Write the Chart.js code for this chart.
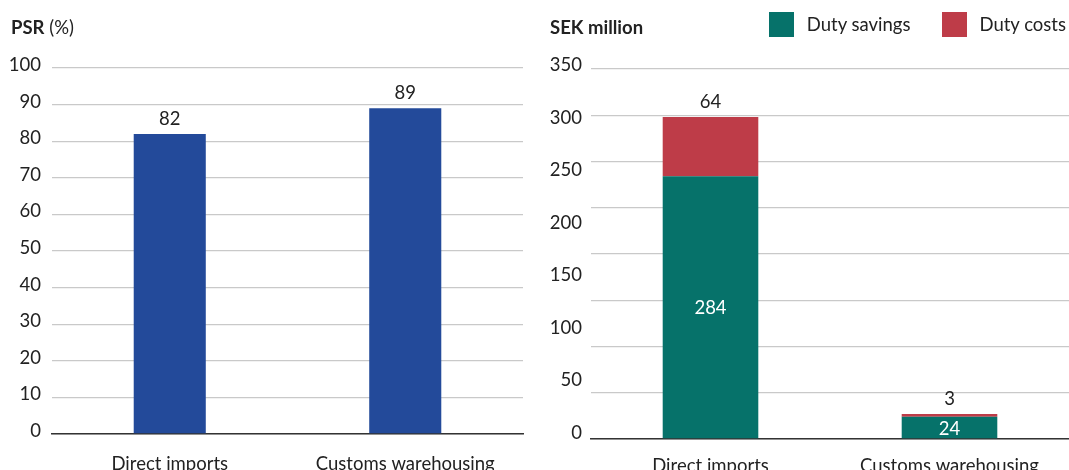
<!DOCTYPE html>
<html>
<head>
<meta charset="utf-8">
<script src="https://cdn.jsdelivr.net/npm/chart.js@4.4.1/dist/chart.umd.min.js"></script>
<style>
	html, body { margin: 0; padding: 0; background: #fff; }
	body { width: 1069px; height: 470px; position: relative; overflow: hidden; font-family: Lato, sans-serif; color: #222; }
	.panel { position: absolute; top: 0; height: 470px; }
	#psr_panel { left: 0; width: 530px; }
	#duty_panel { left: 530px; width: 539px; }
	.unit { position: absolute; top: 16px; font-size: 18.5px; line-height: 22px; }
	#duty_legend { position: absolute; top: 12px; right: 3px; display: flex; align-items: center; font-size: 18.5px; line-height: 25px; }
	#duty_legend .item { display: flex; align-items: center; margin-left: 31px; }
	#duty_legend .item:first-child { margin-left: 0; }
	#duty_legend .swatch { width: 25px; height: 25px; margin-right: 13px; }
</style>
</head>
<body>
<div class="panel" id="psr_panel"><canvas id="psr_chart"></canvas></div>
<div class="panel" id="duty_panel"><canvas id="duty_chart"></canvas></div>
<div class="unit" style="left:11px"><b>PSR</b> (%)</div>
<div class="unit" style="left:550px"><b>SEK million</b></div>
<div id="duty_legend"></div>
<script>
// categories shared by both charts
var categories = ["Direct imports", "Customs warehousing"];

// PSR per import route, %
var psr_values = [82, 89];
var psr_ticks = [0, 10, 20, 30, 40, 50, 60, 70, 80, 90, 100];

// duty effect, SEK million
var duty_savings = [284, 24];
var duty_costs = [64, 3];
var sek_ticks = [0, 50, 100, 150, 200, 250, 300, 350];

var blue = "#234A9A";
var teal = "#06726A";
var red = "#BE3C48";
var grid_color = "#c9c9c9";

Chart.defaults.font.family = "Lato, sans-serif";
Chart.defaults.font.size = 18.5;
Chart.defaults.color = "#222";

// prints each bar's value, white inside the segment or dark above it
var valueLabels = {
	id: 'valueLabels',
	afterDatasetsDraw: function(chart) {
		var ctx = chart.ctx;
		ctx.save();
		ctx.font = "18.5px Lato, sans-serif";
		ctx.textAlign = "center";
		ctx.textBaseline = "alphabetic";
		chart.data.datasets.forEach(function(ds, i) {
			chart.getDatasetMeta(i).data.forEach(function(bar, j) {
				var text = String(ds.data[j]);
				if (ds.labelInside) {
					ctx.fillStyle = "#fff";
					ctx.fillText(text, bar.x, (bar.y + bar.base) / 2 + 7);
				} else {
					ctx.fillStyle = "#222";
					ctx.fillText(text, bar.x, bar.y - 9);
				}
			});
		});
		ctx.restore();
	}
};

function set_ticks(list) {
	return function(scale) {
		scale.ticks = list.map(function(v) { return {value: v}; });
	};
}

var psr_chart = new Chart(document.getElementById("psr_chart"), {
	type: 'bar',
	data: {
		labels: categories,
		datasets: [{
			label: "PSR",
			data: psr_values,
			backgroundColor: blue,
			barPercentage: 0.306,
			categoryPercentage: 1
		}]
	},
	options: {
		responsive: true,
		maintainAspectRatio: false,
		animation: false,
		layout: { padding: { top: 68, right: 7, bottom: 0, left: 0 } },
		plugins: { legend: { display: false }, tooltip: { enabled: false } },
		scales: {
			x: {
				grid: { display: false },
				border: { color: "#333", width: 1.5 },
				ticks: { padding: 11 },
				afterFit: function(scale) { scale.height = 36; }
			},
			y: {
				min: 0,
				max: 100,
				afterBuildTicks: set_ticks(psr_ticks),
				grid: { color: grid_color, lineWidth: 1.3, drawTicks: false },
				border: { display: false },
				ticks: { padding: 11, labelOffset: -3 },
				afterFit: function(scale) { scale.width = 52; }
			}
		}
	},
	plugins: [valueLabels]
});

var duty_chart = new Chart(document.getElementById("duty_chart"), {
	type: 'bar',
	data: {
		labels: categories,
		datasets: [
			{ label: "Duty savings", data: duty_savings, backgroundColor: teal, yAxisID: 'y', labelInside: true },
			{ label: "Duty costs", data: duty_costs, backgroundColor: red, yAxisID: 'y' }
		]
	},
	options: {
		responsive: true,
		maintainAspectRatio: false,
		animation: false,
		datasets: { bar: { barPercentage: 0.40, categoryPercentage: 1 } },
		layout: { padding: { top: 69, right: 0, bottom: 0, left: 0 } },
		plugins: { legend: { display: false }, tooltip: { enabled: false } },
		scales: {
			x: {
				stacked: true,
				grid: { display: false },
				border: { color: "#333", width: 1.5 },
				ticks: { padding: 8 },
				afterFit: function(scale) { scale.height = 31; }
			},
			// gridlines every 50 up to 400
			y: {
				stacked: true,
				min: 0,
				max: 400,
				ticks: { display: false, stepSize: 50 },
				grid: { color: grid_color, lineWidth: 1.3, drawTicks: false },
				border: { display: false },
				afterFit: function(scale) { scale.width = 0; }
			},
			// tick labels on their own scale, spaced wider than the gridlines
			sek: {
				type: 'linear',
				axis: 'y',
				position: 'left',
				min: -6,
				max: 346.2,
				afterBuildTicks: set_ticks(sek_ticks),
				grid: { display: false, drawTicks: false },
				border: { display: false },
				ticks: { padding: 9 },
				afterFit: function(scale) { scale.width = 61; }
			}
		}
	},
	plugins: [valueLabels]
});

// html legend from the dataset colours
var legend = document.getElementById("duty_legend");
duty_chart.data.datasets.forEach(function(ds) {
	var item = document.createElement("span");
	item.className = "item";
	var swatch = document.createElement("span");
	swatch.className = "swatch";
	swatch.style.background = ds.backgroundColor;
	item.appendChild(swatch);
	item.appendChild(document.createTextNode(ds.label));
	legend.appendChild(item);
});
</script>
</body>
</html>
